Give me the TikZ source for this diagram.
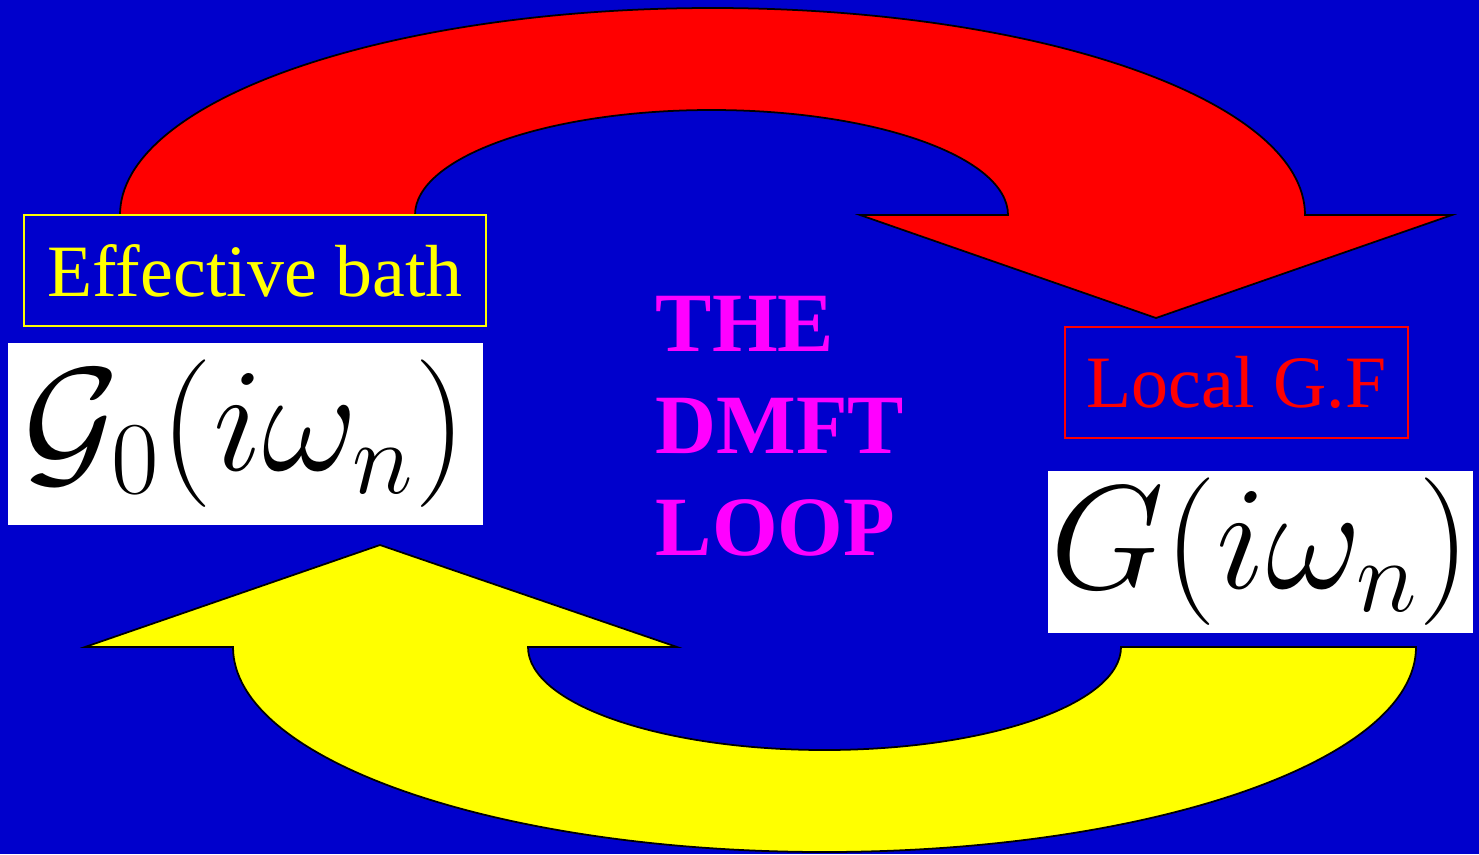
\RequirePackage{fix-cm}
\documentclass[tikz,border=0pt]{standalone}
\usepackage{amsmath,amssymb}
\usepackage{fontspec}
\setmainfont{Liberation Serif}
\usetikzlibrary{calc}
\definecolor{bgblue}{RGB}{0,0,204}
\definecolor{loopmag}{RGB}{255,0,255}
\definecolor{bathyellow}{RGB}{255,255,0}

\begin{document}
\begin{tikzpicture}[x=0.01cm, y=-0.01cm,
    label box/.style={draw=#1, text=#1, line width=0.5pt, inner sep=0pt,
      font=\fontsize{21}{25}\selectfont},
    math box/.style={fill=white, inner sep=0pt, text=black,
      font=\fontsize{42}{50}\selectfont}]
			\fill[bgblue] (0,0) rectangle (1479,854);
			\useasboundingbox (0,0) rectangle (1479,854);
			\coordinate (Rc) at (712.5,215);
			\coordinate (Yc) at (824.5,647);
			\filldraw[fill=red, draw=black, line width=0.5pt]
				(120,215) arc[start angle=180, end angle=0, x radius=592.5, y radius=-207]
				-- (1452,215) -- (1156,318) -- (860,215) -- (1008,215)
				arc[start angle=0, end angle=180, x radius=296.5, y radius=-105] -- cycle;
			\filldraw[fill=bathyellow, draw=black, line width=0.5pt]
				(1416,647) arc[start angle=0, end angle=-180, x radius=591.5, y radius=-205]
				-- (85,647) -- (380,545) -- (677,647) -- (528,647)
				arc[start angle=180, end angle=360, x radius=296.5, y radius=-103] -- cycle;
			\node[label box=bathyellow, minimum width=4.62cm, minimum height=1.11cm] (bath) at (255,270.5) {Effective bath};
			\node[math box, minimum width=4.75cm, minimum height=1.82cm] (weiss) at (245.5,434) {$\mathcal{G}_0(i\omega_n)$};
			\node[label box=red, minimum width=3.43cm, minimum height=1.11cm] (local) at (1236.5,382.5) {Local G.F};
			\node[math box, minimum width=4.25cm, minimum height=1.62cm] (green) at (1260.5,552) {$G(i\omega_n)$};
			\node[text=loopmag, align=left, anchor=north west, inner sep=0pt,
				font=\fontsize{24}{29}\bfseries\selectfont] (loop) at (655,296) {THE\\DMFT\\LOOP};
		\end{tikzpicture}
\end{document}
